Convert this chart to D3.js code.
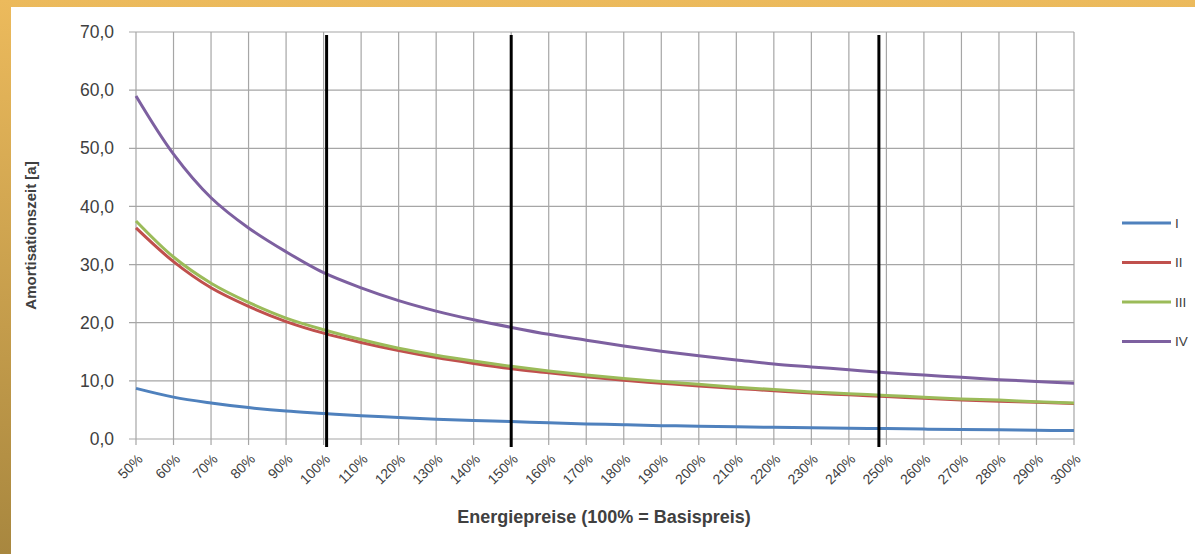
<!DOCTYPE html>
<html><head><meta charset="utf-8">
<script src="https://cdn.jsdelivr.net/npm/d3@7"></script>
<style>html,body{margin:0;padding:0;background:#fff;}svg{display:block;}</style>
</head><body><svg id="c" width="1195" height="554"></svg>
<script>
const categories = [50,60,70,80,90,100,110,120,130,140,150,160,170,180,190,200,210,220,230,240,250,260,270,280,290,300];
const seriesI   = [8.7,7.2,6.2,5.4,4.8,4.4,4.0,3.7,3.4,3.2,3.0,2.8,2.6,2.45,2.3,2.2,2.1,2.0,1.95,1.85,1.8,1.7,1.65,1.6,1.5,1.45];
const seriesII  = [36.3,30.5,26.0,22.8,20.2,18.2,16.6,15.2,14.0,13.0,12.1,11.4,10.7,10.1,9.6,9.1,8.7,8.3,7.9,7.6,7.3,7.0,6.7,6.5,6.3,6.1];
const seriesIII = [37.5,31.3,26.8,23.5,20.8,18.8,17.1,15.6,14.4,13.4,12.5,11.7,11.0,10.4,9.9,9.4,8.9,8.5,8.1,7.8,7.5,7.2,6.9,6.7,6.4,6.2];
const seriesIV  = [59.0,49.0,41.5,36.3,32.2,28.6,26.0,23.8,22.0,20.5,19.2,18.0,17.0,16.0,15.1,14.3,13.6,12.9,12.4,11.9,11.4,11.0,10.6,10.2,9.9,9.6];
const seriesNames = ["I","II","III","IV"];
const yTicks = [0,10,20,30,40,50,60,70];
const markers = [100.8,150,248];

const colors = ["#4F81BD","#C0504D","#9BBB59","#7D60A0"];
const data = [seriesI, seriesII, seriesIII, seriesIV];

const svg = d3.select("#c");
const W = 1195, H = 554;

// frame
const defs = svg.append("defs");
const g1 = defs.append("linearGradient").attr("id","gold").attr("x1",0).attr("y1",0).attr("x2",0).attr("y2",1);
g1.append("stop").attr("offset","0%").attr("stop-color","#ECBA5C");
g1.append("stop").attr("offset","100%").attr("stop-color","#A8873F");
svg.append("rect").attr("width",W).attr("height",H).attr("fill","url(#gold)");
svg.append("rect").attr("x",11).attr("y",7).attr("width",W-11).attr("height",H-7).attr("fill","#fff");

const x = d3.scaleLinear().domain([50,300]).range([136,1074]);
const y = d3.scaleLinear().domain([0,70]).range([439,32]);

const font = "'Liberation Sans', Arial, sans-serif";

// gridlines
svg.append("g").selectAll("line").data(yTicks).join("line")
  .attr("x1",x(50)-7).attr("x2",x(300)).attr("y1",d=>y(d)).attr("y2",d=>y(d))
  .attr("stroke","#A6A6A6").attr("stroke-width",1.2);
svg.append("g").selectAll("line").data(categories).join("line")
  .attr("x1",d=>x(d)).attr("x2",d=>x(d)).attr("y1",y(70)).attr("y2",y(0)+6)
  .attr("stroke","#A6A6A6").attr("stroke-width",1.2);

// y axis labels
const yAxis = d3.axisLeft(y).tickValues(yTicks).tickSize(0).tickPadding(22)
  .tickFormat(d=>d3.format(".1f")(d).replace(".",","));
const ya = svg.append("g").attr("transform",`translate(${x(50)},0)`).call(yAxis);
ya.select(".domain").remove();
ya.selectAll("text").attr("font-family",font).attr("font-size",17.5).attr("fill","#404040");

// x axis labels
const xAxis = d3.axisBottom(x).tickValues(categories).tickSize(0).tickFormat(d=>d+"%");
const xa = svg.append("g").attr("transform",`translate(0,${y(0)})`).call(xAxis);
xa.select(".domain").remove();
xa.selectAll("text").attr("font-family",font).attr("font-size",14).attr("fill","#404040")
  .attr("text-anchor","end").attr("dy",0).attr("y",0)
  .attr("transform","translate(7,21) rotate(-45)");

// series lines
const line = d3.line().x((d,i)=>x(categories[i])).y(d=>y(d)).curve(d3.curveCatmullRom.alpha(0.5));
svg.append("g").selectAll("path").data(data).join("path")
  .attr("d",d=>line(d)).attr("fill","none")
  .attr("stroke",(d,i)=>colors[i]).attr("stroke-width",3).attr("stroke-linejoin","round");

// black marker lines
svg.append("g").selectAll("line").data(markers).join("line")
  .attr("x1",d=>x(d)).attr("x2",d=>x(d)).attr("y1",y(70)+3).attr("y2",y(0)+8)
  .attr("stroke","#000").attr("stroke-width",3);

// axis titles
svg.append("text").attr("x",604).attr("y",523).attr("text-anchor","middle")
  .attr("font-family",font).attr("font-size",18).attr("font-weight","bold").attr("fill","#404040")
  .text("Energiepreise (100% = Basispreis)");
svg.append("text").attr("transform",`translate(36,${y(35)}) rotate(-90)`).attr("text-anchor","middle")
  .attr("font-family",font).attr("font-size",15).attr("font-weight","bold").attr("fill","#404040")
  .text("Amortisationszeit [a]");

// legend
const lg = svg.append("g").selectAll("g").data(seriesNames).join("g")
  .attr("transform",(d,i)=>`translate(1122,${223+i*39.5})`);
lg.append("line").attr("x1",0).attr("x2",49).attr("stroke",(d,i)=>colors[i]).attr("stroke-width",3);
lg.append("text").attr("x",53).attr("dy","0.35em").attr("font-family",font).attr("font-size",13.5).attr("fill","#404040").text(d=>d);
</script></body></html>
